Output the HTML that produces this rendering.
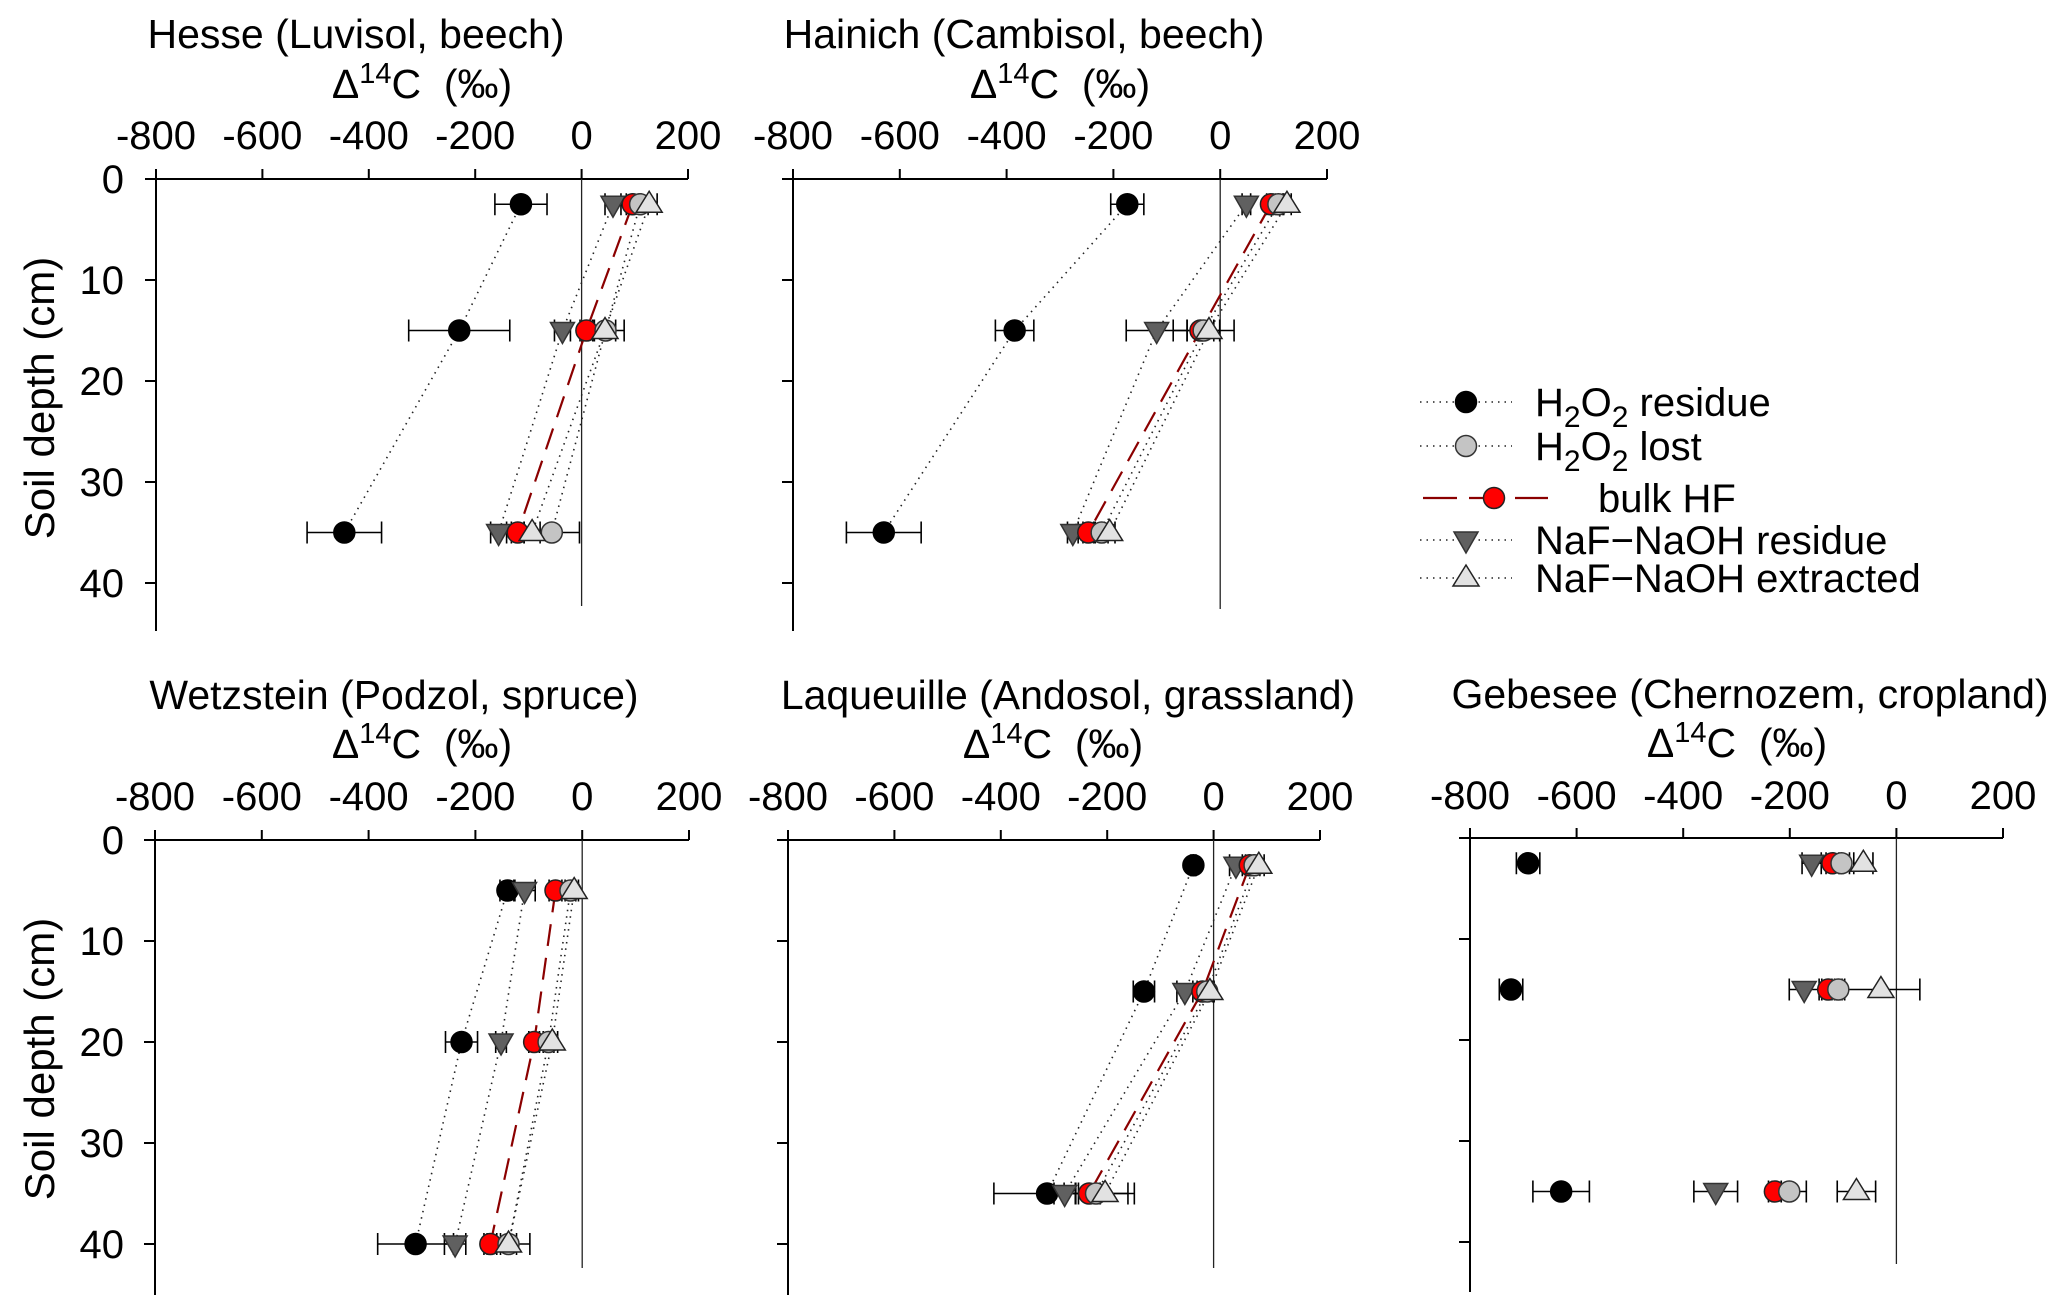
<!DOCTYPE html>
<html><head><meta charset="utf-8"><style>
html,body{margin:0;padding:0;background:#fff;}
svg{display:block;font-family:"Liberation Sans",Arial,sans-serif;}
</style></head><body>
<svg id="fig" width="2067" height="1315" viewBox="0 0 2067 1315" xmlns="http://www.w3.org/2000/svg"></svg>
<script>
// ---- data (Δ14C ‰ per depth cm) ----
const xTicks=[-800,-600,-400,-200,0,200];
const yTicks=[0,10,20,30,40];
const seriesNames=["H2O2 residue","H2O2 lost","bulk HF","NaF-NaOH residue","NaF-NaOH extracted"];

const hesseDepth=[2.5,15,35];
const hesseResidue=[-114,-230,-446]; const hesseResidueErr=[49,95,70];
const hesseLost=[110,45,-56]; const hesseLostErr=[15,35,52];
const hesseBulk=[96,9,-120]; const hesseBulkErr=[12,12,12];
const hesseNafRes=[59,-36,-156]; const hesseNafResErr=[15,15,15];
const hesseNafExt=[127,44,-93]; const hesseNafExtErr=[15,20,15];

const hainichDepth=[2.5,15,35];
const hainichResidue=[-174,-385,-630]; const hainichResidueErr=[31,36,70];
const hainichLost=[109,-31,-222]; const hainichLostErr=[10,57,12];
const hainichBulk=[95,-37,-247]; const hainichBulkErr=[8,25,10];
const hainichNafRes=[49,-119,-276]; const hainichNafResErr=[8,57,10];
const hainichNafExt=[125,-21,-207]; const hainichNafExtErr=[8,20,10];

const wetzDepth=[5,20,40];
const wetzResidue=[-140,-226,-312]; const wetzResidueErr=[14,30,71];
const wetzLost=[-22,-63,-138]; const wetzLostErr=[10,10,15];
const wetzBulk=[-50,-90,-172]; const wetzBulkErr=[12,10,12];
const wetzNafRes=[-108,-152,-238]; const wetzNafResErr=[20,10,20];
const wetzNafExt=[-15,-56,-138]; const wetzNafExtErr=[8,10,40];

const laqDepth=[2.5,15,35];
const laqResidue=[-38,-131,-313]; const laqResidueErr=[5,20,100];
const laqLost=[77,-12,-221]; const laqLostErr=[10,10,60];
const laqBulk=[68,-21,-234]; const laqBulkErr=[8,10,20];
const laqNafRes=[42,-54,-280]; const laqNafResErr=[12,15,20];
const laqNafExt=[85,-7,-204]; const laqNafExtErr=[10,8,55];

const gebDepth=[2.5,15,35];
const gebResidue=[-691,-723,-629]; const gebResidueErr=[22,22,53];
const gebLost=[-103,-109,-201]; const gebLostErr=[15,12,32];
const gebBulk=[-120,-128,-228]; const gebBulkErr=[12,12,12];
const gebNafRes=[-159,-173,-339]; const gebNafResErr=[18,28,41];
const gebNafExt=[-62,-29,-75]; const gebNafExtErr=[18,73,36];

const NS="http://www.w3.org/2000/svg";
const svg=document.getElementById('fig');
function mk(tag,attrs,parent){const e=document.createElementNS(NS,tag);for(const k in attrs)e.setAttribute(k,attrs[k]);(parent||svg).appendChild(e);return e;}

const panels=[
 {key:'hesse',title:'Hesse (Luvisol, beech)',titleX:356,xa:156,xb:688,y0:179,axBottom:631,zBottom:606,yLabels:true,ylabX:124,titleY:34,unitX:422,unitY:84,tickY:135,lines:true,
  depth:hesseDepth,vals:[hesseResidue,hesseLost,hesseBulk,hesseNafRes,hesseNafExt],errs:[hesseResidueErr,hesseLostErr,hesseBulkErr,hesseNafResErr,hesseNafExtErr]},
 {key:'hainich',title:'Hainich (Cambisol, beech)',titleX:1024,xa:793,xb:1327,y0:179,axBottom:631,zBottom:609,yLabels:false,titleY:34,unitX:1060,unitY:84,tickY:135,lines:true,
  depth:hainichDepth,vals:[hainichResidue,hainichLost,hainichBulk,hainichNafRes,hainichNafExt],errs:[hainichResidueErr,hainichLostErr,hainichBulkErr,hainichNafResErr,hainichNafExtErr]},
 {key:'wetzstein',title:'Wetzstein (Podzol, spruce)',titleX:394,xa:155,xb:689,y0:840,axBottom:1295,zBottom:1268,yLabels:true,ylabX:124,titleY:695,unitX:422,unitY:744,tickY:796,lines:true,
  depth:wetzDepth,vals:[wetzResidue,wetzLost,wetzBulk,wetzNafRes,wetzNafExt],errs:[wetzResidueErr,wetzLostErr,wetzBulkErr,wetzNafResErr,wetzNafExtErr]},
 {key:'laqueuille',title:'Laqueuille (Andosol, grassland)',titleX:1068,xa:788,xb:1320,y0:840,axBottom:1295,zBottom:1268,yLabels:false,titleY:695,unitX:1053,unitY:744,tickY:796,lines:true,
  depth:laqDepth,vals:[laqResidue,laqLost,laqBulk,laqNafRes,laqNafExt],errs:[laqResidueErr,laqLostErr,laqBulkErr,laqNafResErr,laqNafExtErr]},
 {key:'gebesee',title:'Gebesee (Chernozem, cropland)',titleX:1750,xa:1470,xb:2003,y0:838,axBottom:1292,zBottom:1264,yLabels:false,titleY:694,unitX:1737,unitY:743,tickY:795,lines:false,
  depth:gebDepth,vals:[gebResidue,gebLost,gebBulk,gebNafRes,gebNafExt],errs:[gebResidueErr,gebLostErr,gebBulkErr,gebNafResErr,gebNafExtErr]}
];
const PXCM=10.1;

function marker(g,type,cx,cy){
  let m;
  if(type===0){m=mk('circle',{cx:cx,cy:cy,r:10.5,fill:'#000',stroke:'#000','stroke-width':1.5},g);}
  else if(type===1){m=mk('circle',{cx:cx,cy:cy,r:10.5,fill:'#c4c4c4',stroke:'#333','stroke-width':1.5},g);}
  else if(type===2){m=mk('circle',{cx:cx,cy:cy,r:10.5,fill:'#ff0000',stroke:'#222','stroke-width':1.5},g);}
  else if(type===3){m=mk('polygon',{points:`${cx-12},${cy-8} ${cx+12},${cy-8} ${cx},${cy+13}`,fill:'#606060',stroke:'#333','stroke-width':1.5},g);}
  else {m=mk('polygon',{points:`${cx-13},${cy+8} ${cx+13},${cy+8} ${cx},${cy-13}`,fill:'#e2e2e2',stroke:'#222','stroke-width':1.5},g);}
  return m;
}

panels.forEach(p=>{
  const g=mk('g',{});
  
  
  const X=v=>p.xa+(v+800)/1000*(p.xb-p.xa);
  const Y=d=>p.y0+d*PXCM;
  const t=mk('text',{x:p.titleX,y:p.titleY+14,'font-size':41,'text-anchor':'middle'},g);
  t.textContent=p.title;
  
  
  const u=mk('text',{x:p.unitX,y:p.unitY+14,'font-size':41,'text-anchor':'middle',style:'white-space:pre'},g);
  
  
  const s1=mk('tspan',{},u);s1.textContent='Δ';
  const s2=mk('tspan',{'font-size':29,dy:-15},u);s2.textContent='14';
  const s3=mk('tspan',{dy:15},u);s3.textContent='C  (‰)';
  // axes
  const top=mk('line',{x1:p.xa-11,y1:p.y0,x2:p.xb,y2:p.y0,stroke:'#000','stroke-width':2},g);
  
  
  const left=mk('line',{x1:p.xa,y1:p.y0,x2:p.xa,y2:p.axBottom,stroke:'#000','stroke-width':2},g);
  
  
  const z=mk('line',{x1:X(0),y1:p.y0,x2:X(0),y2:p.zBottom,stroke:'#222','stroke-width':1.3},g);
  
  
  xTicks.forEach(v=>{
    mk('line',{x1:X(v),y1:p.y0,x2:X(v),y2:p.y0-10,stroke:'#000','stroke-width':2},g);
    const tl=mk('text',{x:X(v),y:p.tickY+14,'font-size':40,'text-anchor':'middle'},g);
    tl.textContent=String(v);
    
    
  });
  yTicks.forEach(d=>{
    if(d>0) mk('line',{x1:p.xa-11,y1:Y(d),x2:p.xa,y2:Y(d),stroke:'#000','stroke-width':2},g);
    if(p.yLabels){
      const yl=mk('text',{x:p.ylabX,y:Y(d)+14,'font-size':40,'text-anchor':'end'},g);
      yl.textContent=String(d);
      
      
    }
  });
  if(p.yLabels){
    const cy=(Y(0)+Y(40))/2+17;
    const yt=mk('text',{x:39,y:cy,'font-size':42,'text-anchor':'middle',transform:`rotate(-90 39 ${cy}) translate(0 15)`},g);
    yt.textContent='Soil depth (cm)';
    
    
  }
  // error bars
  p.vals.forEach((arr,si)=>{
    arr.forEach((v,i)=>{
      const e=p.errs[si][i], y=Y(p.depth[i]);
      const eg=mk('g',{stroke:'#000','stroke-width':1.6},g);
      
      
      mk('line',{x1:X(v-e),y1:y,x2:X(v+e),y2:y},eg);
      mk('line',{x1:X(v-e),y1:y-11,x2:X(v-e),y2:y+11},eg);
      mk('line',{x1:X(v+e),y1:y-11,x2:X(v+e),y2:y+11},eg);
    });
  });
  // lines
  if(p.lines){
    p.vals.forEach((arr,si)=>{
      const pts=arr.map((v,i)=>X(v)+','+Y(p.depth[i])).join(' ');
      const pl=mk('polyline',{points:pts,fill:'none',stroke:si===2?'#8b0000':'#222','stroke-width':si===2?2.2:1.6,'stroke-dasharray':si===2?'22 12':'1.5 5'},g);
      
      
    });
  }
  // markers (draw order)
  [0,3,2,1,4].forEach(si=>{
    p.vals[si].forEach((v,i)=>{
      const m=marker(g,si,X(v),Y(p.depth[i]));
      
      
    });
  });
});

// legend
const lg=mk('g',{});


const rows=[{y:402,type:0},{y:446,type:1},{y:498,type:2},{y:540,type:3},{y:578,type:4}];
rows.forEach((r,i)=>{
  const eg=mk('g',{},lg);
  
  
  if(r.type===2){
    mk('line',{x1:1423,y1:r.y,x2:1548,y2:r.y,stroke:'#8b0000','stroke-width':2.2,'stroke-dasharray':'34 12'},eg);
    marker(eg,2,1494,r.y);
  } else {
    mk('line',{x1:1420,y1:r.y,x2:1512,y2:r.y,stroke:'#222','stroke-width':1.5,'stroke-dasharray':'1.5 5'},eg);
    marker(eg,r.type,1466,r.y);
  }
  const tx=mk('text',{x:r.type===2?1598:1535,y:r.y+14,'font-size':40},eg);
  if(r.type===0||r.type===1){
    const a=mk('tspan',{},tx);a.textContent='H';
    const b=mk('tspan',{'font-size':30,dy:11},tx);b.textContent='2';
    const c=mk('tspan',{dy:-11},tx);c.textContent='O';
    const d=mk('tspan',{'font-size':30,dy:11},tx);d.textContent='2';
    const e=mk('tspan',{dy:-11},tx);e.textContent=r.type===0?' residue':' lost';
  } else if(r.type===2){tx.textContent='bulk HF';}
  else if(r.type===3){tx.textContent='NaF−NaOH residue';}
  else {tx.textContent='NaF−NaOH extracted';}
});
</script>
</body></html>
